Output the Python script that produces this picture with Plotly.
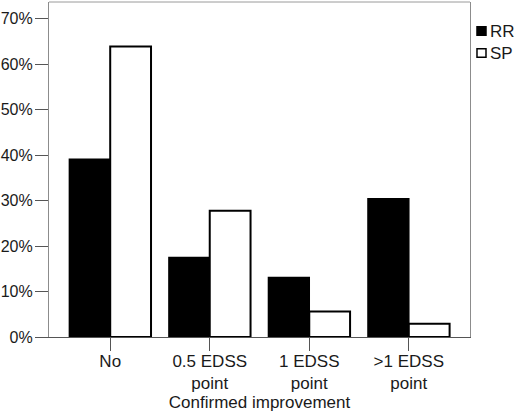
"""
Confirmed improvement by MS course (RR vs SP), grouped bar chart
"""
import plotly.graph_objects as go

# data
categories = ["No", "0.5 EDSS<br>point", "1 EDSS<br>point", ">1 EDSS<br>point"]
rr_values = [39.1, 17.5, 13.1, 30.4]
sp_values = [63.9, 27.8, 5.6, 2.9]
y_ticks = [0, 10, 20, 30, 40, 50, 60, 70]
y_tick_labels = [f"{v}%" for v in y_ticks]
series_names = ["RR", "SP"]
series_fills = ["black", "white"]

FONT = "Liberation Sans, Arial, sans-serif"
TEXT = "#1a1a1a"
FS = 17

fig = go.Figure()

fig.add_trace(go.Bar(
    name=series_names[0],
    x=categories,
    y=rr_values,
    marker=dict(color=series_fills[0], line=dict(color="black", width=1.5)),
))
fig.add_trace(go.Bar(
    name=series_names[1],
    x=categories,
    y=sp_values,
    marker=dict(color=series_fills[1], line=dict(color="black", width=2)),
))

# small legend to the right of the frame, drawn by hand so it sits tight
shapes = [dict(type="line", xref="paper", yref="paper", x0=0, x1=1, y0=1, y1=1,
               line=dict(color="#9a9a9a", width=1))]
annotations = []
for i, (name, fill) in enumerate(zip(series_names, series_fills)):
    yc = 0.9134 - i * 0.0657
    shapes.append(dict(type="rect", xref="paper", yref="paper",
                       x0=1.0166, x1=1.038, y0=yc - 0.0125, y1=yc + 0.0125,
                       fillcolor=fill, line=dict(color="black", width=1.5)))
    annotations.append(dict(text=name, xref="paper", yref="paper", x=1.042, y=yc,
                            xanchor="left", yanchor="middle", showarrow=False,
                            font=dict(size=FS, color=TEXT)))

fig.update_layout(
    width=520,
    height=414,
    margin=dict(l=49, r=50, t=2, b=77),
    paper_bgcolor="white",
    plot_bgcolor="white",
    barmode="group",
    bargap=0.18,
    bargroupgap=0,
    font=dict(family=FONT, size=FS, color=TEXT),
    showlegend=False,
    shapes=shapes,
    annotations=annotations,
)

fig.update_xaxes(
    type="category",
    range=[-0.615, 3.615],
    automargin=False,
    showline=True,
    linecolor="#555555",
    linewidth=1.2,
    ticks="outside",
    ticklen=13,
    tickcolor="#555555",
    ticklabelstandoff=-5,
    tickfont=dict(size=FS, color=TEXT),
    showgrid=False,
    title=dict(text="Confirmed improvement", font=dict(size=FS, color=TEXT), standoff=4),
)

fig.update_yaxes(
    range=[0, 73.7],
    tickvals=y_ticks,
    ticktext=y_tick_labels,
    automargin=False,
    showline=True,
    mirror=True,
    linecolor="#8c8c8c",
    linewidth=1.2,
    ticks="outside",
    ticklen=13,
    tickcolor="#555555",
    ticklabelstandoff=-1,
    tickfont=dict(size=16, color=TEXT),
    showgrid=False,
    zeroline=False,
)

# page has a default 8px body margin; drop it so the figure fills the window
fig.write_html("out.html", config={"displayModeBar": False},
               post_script="document.body.style.margin='0px';")
